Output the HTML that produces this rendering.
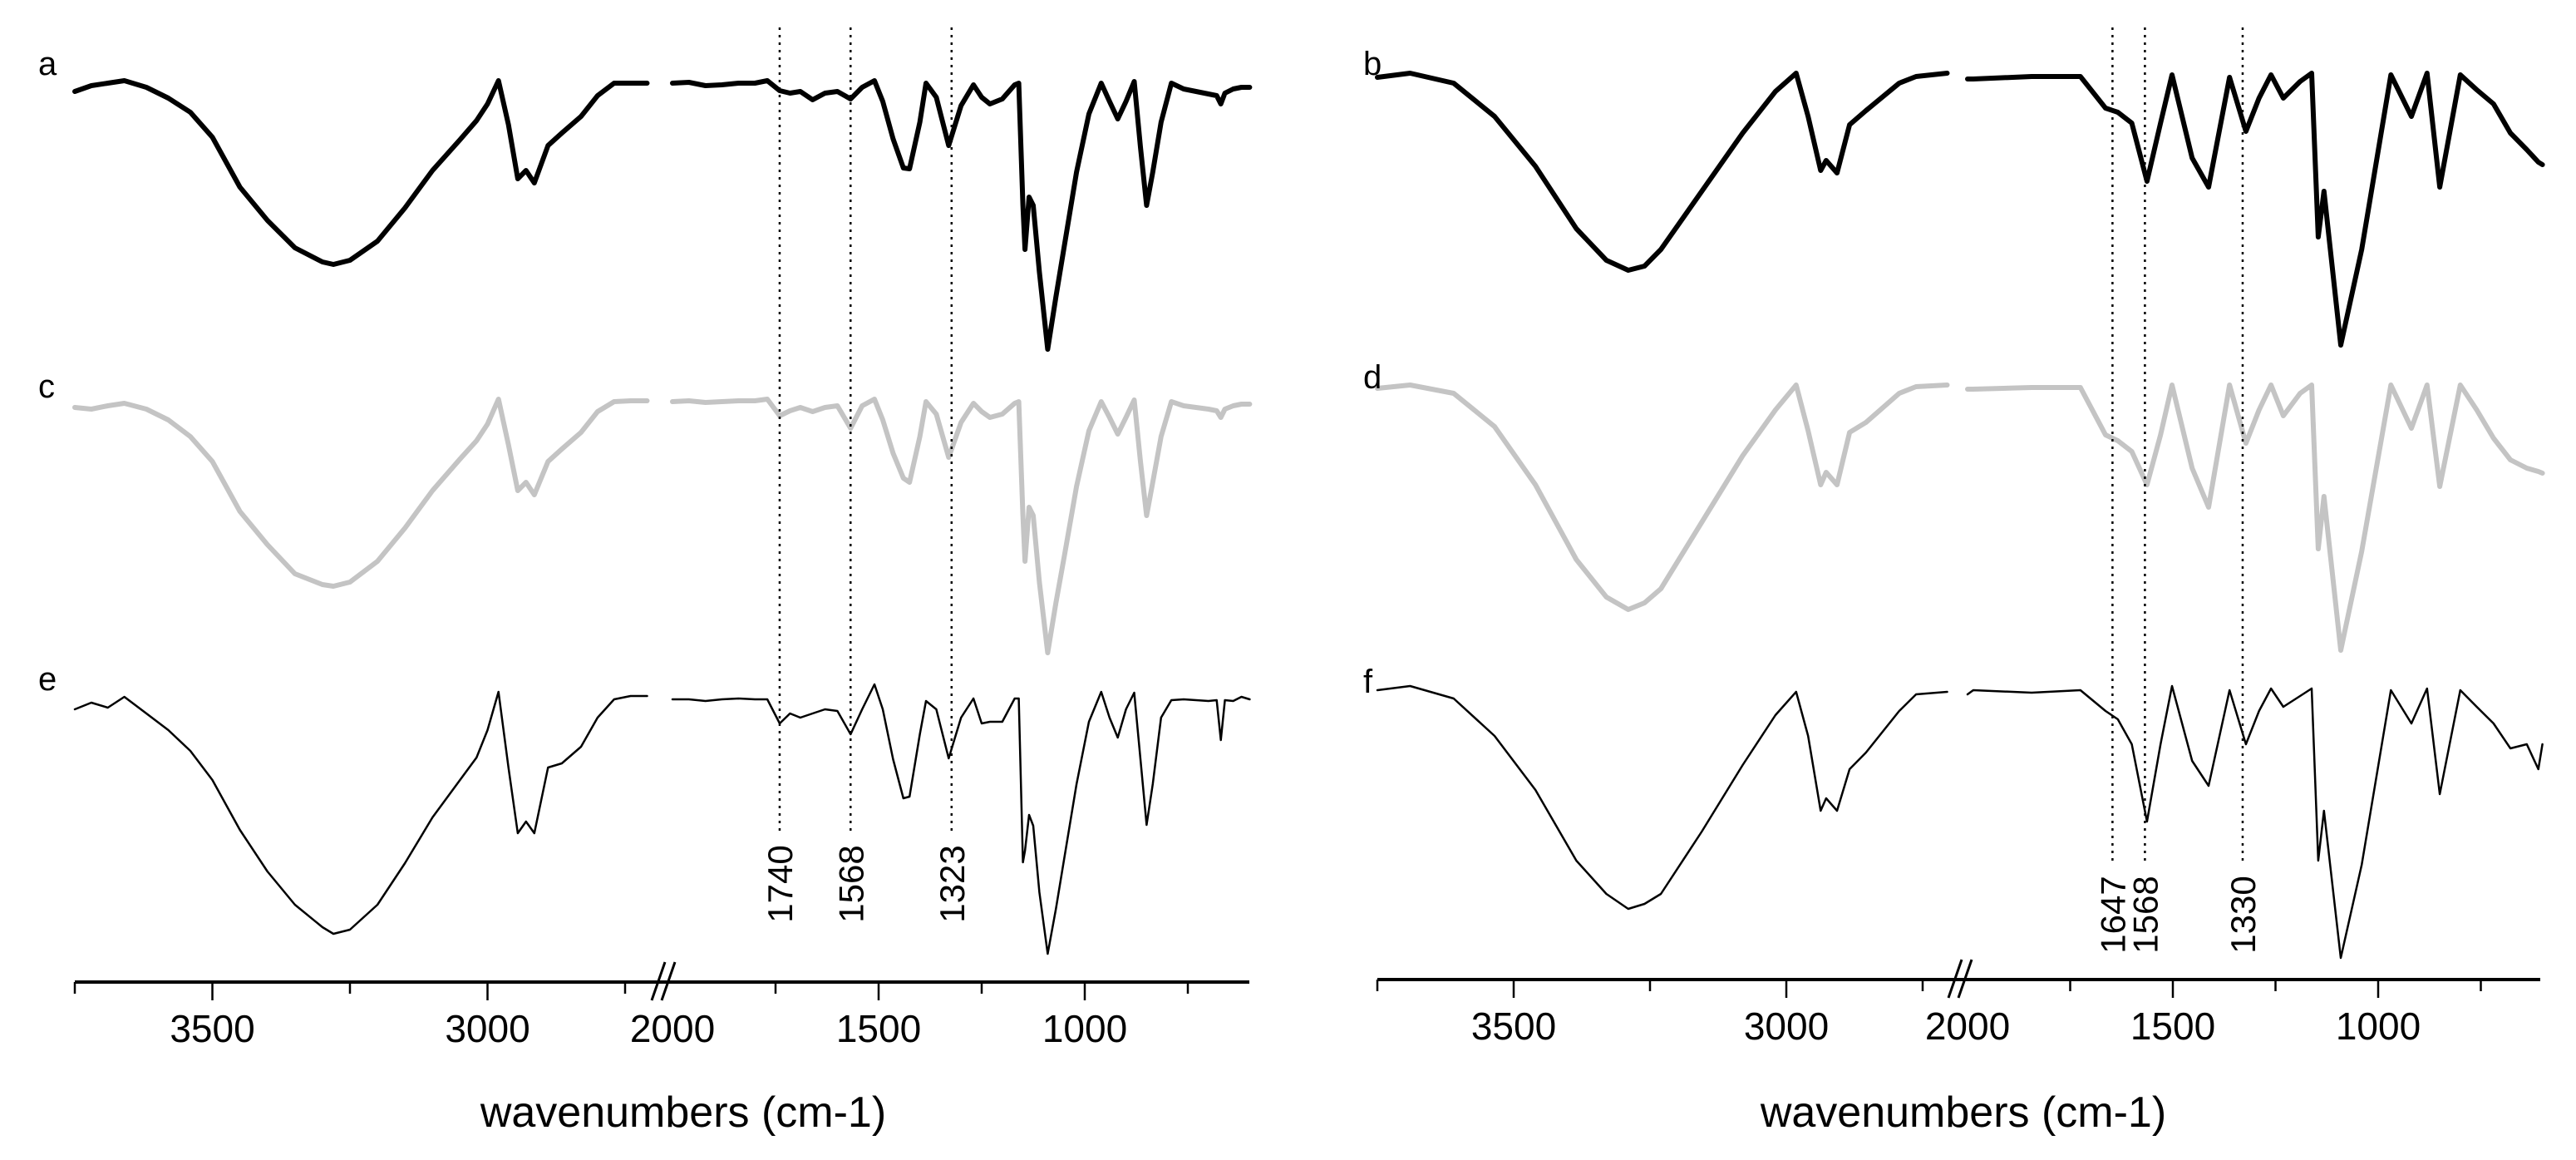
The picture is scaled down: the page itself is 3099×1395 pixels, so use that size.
<!DOCTYPE html>
<html><head><meta charset="utf-8"><style>
html,body{margin:0;padding:0;background:#fff;}
svg{display:block;font-family:"Liberation Sans",Arial,sans-serif;}
</style></head><body>
<svg id="chart" width="3099" height="1395" viewBox="0 0 3099 1395" xmlns="http://www.w3.org/2000/svg">
<rect width="3099" height="1395" fill="#fff"/>
<g id="left"></g>
<g id="right"></g>
</svg>
<script>
// ---- data: wavenumbers (cm-1) and relative absorbance depth (a.u.) ----
const leftWnHi = [3750,3720,3690,3660,3620,3580,3540,3500,3450,3400,3350,3300,3280,3250,3200,3150,3100,3050,3020,3000,2980,2962,2945,2930,2915,2890,2865,2830,2800,2770,2740,2710];
const leftWnLo = [2000,1960,1920,1880,1840,1800,1770,1740,1715,1690,1660,1630,1600,1568,1540,1510,1490,1465,1440,1425,1400,1385,1360,1330,1300,1270,1250,1230,1200,1170,1160,1150,1145,1135,1125,1110,1090,1070,1050,1020,990,960,940,920,900,880,865,850,835,815,790,760,730,700,680,670,660,640,620,600];
const aHi = [13,6,3,0,8,21,38,68,128,168,201,218,221,216,193,153,108,71,48,28,0,53,118,108,123,78,63,43,18,3,3,3];
const aLo = [3,2,6,5,3,3,0,12,15,13,23,15,13,22,8,0,25,70,105,106,50,3,20,78,30,5,20,28,22,5,3,150,203,140,150,230,323,260,200,110,40,3,25,46,25,1,80,150,110,50,3,10,13,16,18,28,15,10,8,8];
const cHi = [10,12,8,5,12,25,45,75,135,175,210,223,225,220,195,155,110,72,50,30,0,55,110,100,115,75,60,40,15,3,2,2];
const cLo = [3,2,4,3,2,2,0,20,14,10,15,10,8,35,8,0,25,65,95,100,45,3,18,70,28,5,15,22,18,5,3,140,195,130,140,220,305,245,190,105,38,3,22,42,22,1,75,140,100,45,3,8,10,12,14,22,12,8,6,6];
const eHi = [30,22,28,15,35,55,80,115,175,225,265,292,300,295,265,215,160,115,88,55,9,100,179,165,179,100,95,75,40,18,14,14];
const eLo = [18,18,20,18,17,18,18,47,35,40,35,30,32,60,30,0,30,90,137,135,60,20,30,89,40,17,47,45,45,17,17,214,200,157,170,250,324,270,210,120,45,9,40,64,30,10,90,169,120,40,19,18,19,20,19,67,19,20,15,18];

const rightWnHi = [3750,3690,3610,3535,3460,3385,3330,3290,3260,3230,3155,3080,3020,2982,2960,2937,2927,2907,2884,2854,2793,2762,2705];
const rightWnLo = [2000,1986,1844,1725,1664,1634,1600,1563,1530,1502,1453,1413,1362,1322,1290,1261,1231,1190,1162,1146,1132,1091,1040,969,919,881,850,800,760,719,678,638,610,600];
const bHi = [5,0,12,52,112,187,225,237,232,212,142,72,22,0,52,117,105,120,62,45,12,4,0];
const bLo = [7,7,4,4,42,47,60,130,60,2,102,137,5,70,30,2,30,10,0,197,142,327,212,2,52,0,137,2,20,37,72,92,107,110];
const dHi = [4,0,10,50,120,210,255,270,262,245,165,85,30,0,55,120,105,120,57,45,10,2,0];
const dLo = [5,5,3,3,60,67,80,120,60,0,100,147,0,70,30,0,37,10,0,197,134,319,200,0,52,0,122,0,30,64,90,100,104,106];
const fHi = [5,0,15,60,125,210,250,268,262,250,175,95,35,7,60,150,135,150,100,80,30,10,7];
const fLo = [10,5,8,5,30,40,70,163,70,0,90,120,5,70,30,3,25,12,3,210,150,327,215,5,45,3,130,5,25,45,75,70,100,70];

const majorTicks = [3500,3000,1500,1000];
const tickLabels = ["3500","3000","2000","1500","1000"];
const tickLabelWn = [3500,3000,2000,1500,1000];
const minorTicks = [3750,3250,2750,1750,1250,750];
const leftMarkers = [1740,1568,1323];
const rightMarkers = [1647,1568,1330];

const NS = "http://www.w3.org/2000/svg";
function mk(tag, attrs, parent){
  const el = document.createElementNS(NS, tag);
  for (const k in attrs) el.setAttribute(k, attrs[k]);
  parent.appendChild(el);
  return el;
}
function xLeft(wn){ return wn >= 2500 ? 90 + (3750 - wn) * 0.662 : 809 + (2000 - wn) * 0.496; }
function xRight(wn){ return wn >= 2500 ? 1821 + (3500 - wn) * 0.656 : 2367 + (2000 - wn) * 0.494; }

function drawTrace(g, xf, wns, vals, top, color, width, name){
  let d = "";
  wns.forEach((w,i)=>{ d += (i ? "L" : "M") + xf(w).toFixed(1) + "," + (top + vals[i]).toFixed(1); });
  const p = mk("path", {d:d, fill:"none", stroke:color, "stroke-width":width, "stroke-linejoin":"round", "stroke-linecap":"round"}, g);
  
  
}

function drawPanel(g, xf, wnHi, wnLo, traces, letters, markers, axisY, x0, x1, brk, markerEnd, markerLabelY, titleX){
  traces.forEach(t=>{
    drawTrace(g, xf, wnHi, t.hi, t.top, t.color, t.w, t.name + "-high");
    drawTrace(g, xf, wnLo, t.lo, t.top, t.color, t.w, t.name + "-low");
  });
  letters.forEach(l=>{
    const t = mk("text", {x:l.x, y:l.y, "font-size":40, fill:"#000"}, g);
    t.textContent = l.s;
    
    
  });
  markers.forEach(m=>{
    const x = xf(m);
    const ln = mk("line", {x1:x, y1:33, x2:x, y2:markerEnd, stroke:"#000", "stroke-width":2.5, "stroke-dasharray":"3,6"}, g);
    
    
    const t = mk("text", {x:0, y:0, "font-size":42, fill:"#000", "text-anchor":"middle", transform:"translate(" + (x + 15) + "," + markerLabelY + ") rotate(-90)"}, g);
    t.textContent = String(m);
    
    
  });
  const ax = mk("line", {x1:x0, y1:axisY, x2:x1, y2:axisY, stroke:"#000", "stroke-width":4}, g);
  
  
  majorTicks.forEach(w=>{
    const t = mk("line", {x1:xf(w), y1:axisY, x2:xf(w), y2:axisY + 22, stroke:"#000", "stroke-width":2.5}, g);
    
    
  });
  minorTicks.forEach(w=>{
    const t = mk("line", {x1:xf(w), y1:axisY, x2:xf(w), y2:axisY + 14, stroke:"#000", "stroke-width":2.5}, g);
    
    
  });
  tickLabelWn.forEach((w,i)=>{
    const t = mk("text", {x:xf(w), y:axisY + 72, "font-size":46, "text-anchor":"middle", fill:"#000"}, g);
    t.textContent = tickLabels[i];
    
    
  });
  [0, 12].forEach((o,i)=>{
    const b = mk("line", {x1:brk + o - 8, y1:axisY + 22, x2:brk + o + 8, y2:axisY - 24, stroke:"#000", "stroke-width":3}, g);
    
    
  });
  const tt = mk("text", {x:titleX, y:1355, "font-size":52, "text-anchor":"middle", fill:"#000"}, g);
  tt.textContent = "wavenumbers (cm-1)";
  
  
}

drawPanel(document.getElementById("left"), xLeft, leftWnHi, leftWnLo, [
  {hi:aHi, lo:aLo, top:97, color:"#000", w:6, name:"spectrum-a"},
  {hi:cHi, lo:cLo, top:480, color:"#c4c4c4", w:6, name:"spectrum-c"},
  {hi:eHi, lo:eLo, top:823, color:"#000", w:2.5, name:"spectrum-e"}
], [{s:"a", x:46, y:90}, {s:"c", x:46, y:478}, {s:"e", x:46, y:830}], leftMarkers, 1181, 90, 1503, 792, 1005, 1063, 822);

drawPanel(document.getElementById("right"), xRight, rightWnHi, rightWnLo, [
  {hi:bHi, lo:bLo, top:88, color:"#000", w:6, name:"spectrum-b"},
  {hi:dHi, lo:dLo, top:463, color:"#c4c4c4", w:6, name:"spectrum-d"},
  {hi:fHi, lo:fLo, top:825, color:"#000", w:2.5, name:"spectrum-f"}
], [{s:"b", x:1640, y:90}, {s:"d", x:1640, y:467}, {s:"f", x:1640, y:833}], rightMarkers, 1178, 1657, 3056, 2352, 1035, 1100, 2362);
</script>
</body></html>
